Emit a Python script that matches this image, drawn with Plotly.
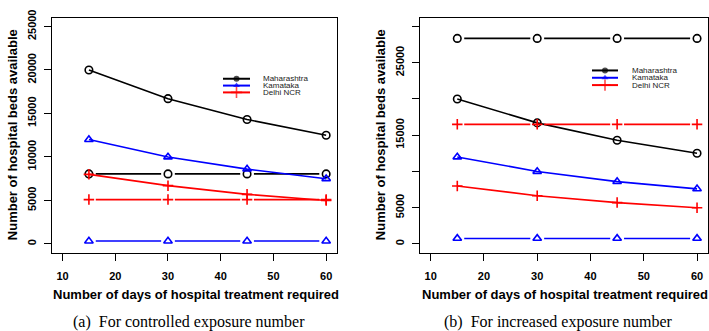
import plotly.graph_objects as go

# ---------------- data ----------------
days = [15, 30, 45, 60]

# (a) controlled exposure number
mah_req_a = [20000, 16700, 14300, 12500]
kar_req_a = [12000, 10000, 8600, 7500]
del_req_a = [8000, 6700, 5700, 5000]
mah_avail_a = [8050, 8050, 8050, 8050]
kar_avail_a = [330, 330, 330, 330]
del_avail_a = [5100, 5100, 5100, 5100]

# (b) increased exposure number
mah_req_b = [20000, 16700, 14300, 12500]
kar_req_b = [12000, 10000, 8600, 7600]
del_req_b = [8000, 6650, 5700, 5000]
mah_avail_b = [28350, 28350, 28350, 28350]
kar_avail_b = [760, 760, 760, 760]
del_avail_b = [16500, 16500, 16500, 16500]

x_ticks = [10, 20, 30, 40, 50, 60]
y_ticks_a = [0, 5000, 10000, 15000, 20000, 25000]
y_ticklabels_a = ["0", "5000", "10000", "15000", "20000", "25000"]
y_ticks_b = [0, 5000, 10000, 15000, 20000, 25000, 30000]
y_ticklabels_b = ["0", "5000", "", "15000", "", "25000", ""]

states = ["Maharashtra", "Karnataka", "Delhi NCR"]
legend_labels = ["Maharashtra", "Kamataka", "Delhi NCR"]
colors = ["black", "blue", "red"]
open_symbols = ["circle-open", "triangle-up-open", "cross-thin-open"]
solid_symbols = ["circle", "triangle-up", "cross-thin-open"]

x_title = "Number of days of hospital treatment required"
y_title = "Number of hospital beds available"
captions = ["(a)  For controlled exposure number", "(b)  For increased exposure number"]

# ---------------- layout helpers ----------------
W, H = 709, 331
def pxx(p):
    return p / W
def pxy(p):
    return 1 - p / H

SANS = "Liberation Sans, Arial, sans-serif"
SERIF = "Liberation Serif, Times New Roman, serif"
LW = 1.6
MS = 7.5
GAP = 1.3  # gap (in x units) around points for R type="b" lines

def gapped(xs, ys):
    gx, gy = [], []
    for i in range(len(xs) - 1):
        gx += [xs[i] + GAP, xs[i + 1] - GAP, None]
        gy += [ys[i], ys[i + 1], None]
    return gx, gy

fig = go.Figure()

panels = [
    dict(ax="", req=[mah_req_a, kar_req_a, del_req_a], avail=[mah_avail_a, kar_avail_a, del_avail_a]),
    dict(ax="2", req=[mah_req_b, kar_req_b, del_req_b], avail=[mah_avail_b, kar_avail_b, del_avail_b]),
]

for p in panels:
    xa, ya = "x" + p["ax"], "y" + p["ax"]
    for k in range(3):
        c = colors[k]
        # requirement curves (type "o": line through points)
        fig.add_trace(go.Scatter(
            x=days, y=p["req"][k], mode="lines+markers", xaxis=xa, yaxis=ya,
            line=dict(color=c, width=LW),
            marker=dict(symbol=open_symbols[k], size=MS, color=c, line=dict(color=c, width=1.6)),
            showlegend=False, name=states[k]))
        # available beds (type "b": line with gaps at points)
        gx, gy = gapped(days, p["avail"][k])
        fig.add_trace(go.Scatter(
            x=gx, y=gy, mode="lines", xaxis=xa, yaxis=ya,
            line=dict(color=c, width=LW), showlegend=False, hoverinfo="skip"))
        fig.add_trace(go.Scatter(
            x=days, y=p["avail"][k], mode="markers", xaxis=xa, yaxis=ya,
            marker=dict(symbol=open_symbols[k], size=MS, color=c, line=dict(color=c, width=1.6)),
            showlegend=False, name=states[k]))

# ---------------- legends (drawn on a pixel-space overlay axis) ----------------
legend_boxes = [
    dict(x0=223, x1=250, tx=261, rows=[72.5, 79.5, 86.5]),
    dict(x0=592, x1=618, tx=630, rows=[64, 71.5, 79]),
]
for lb in legend_boxes:
    for k in range(3):
        yy = lb["rows"][k]
        fig.add_trace(go.Scatter(
            x=[lb["x0"], (lb["x0"] + lb["x1"]) / 2, lb["x1"]], y=[yy, yy, yy],
            mode="lines+markers", xaxis="x3", yaxis="y3",
            line=dict(color=colors[k], width=2),
            marker=dict(symbol=solid_symbols[k], size=[0, 6 if k < 2 else 8, 0], color=colors[k],
                        line=dict(color=colors[k], width=1.6 if k == 2 else 0)),
            showlegend=False, hoverinfo="skip"))

annotations = []
for lb in legend_boxes:
    for k in range(3):
        annotations.append(dict(
            x=pxx(lb["tx"]), y=pxy(lb["rows"][k]), xref="paper", yref="paper",
            text=legend_labels[k], showarrow=False, xanchor="left", yanchor="middle",
            font=dict(family=SANS, size=8, color="#222")))

# ---------------- axes ----------------
boxes = [(52, 336.7), (420, 707.7)]
top, bottom = 10, 250.7
ydom = [pxy(bottom), pxy(top)]

def xaxis_cfg(dom, anchor):
    return dict(domain=dom, range=[8, 62], tickvals=x_ticks, ticktext=[str(v) for v in x_ticks],
                anchor=anchor,
                showline=True, mirror=True, linecolor="black", linewidth=1.2,
                ticks="outside", ticklen=7, tickwidth=1.2, tickcolor="black",
                ticklabelstandoff=6,
                tickfont=dict(family=SANS, size=11, color="black", weight="bold"),
                showgrid=False, zeroline=False, fixedrange=True)

def yaxis_cfg(rng, vals, txt, anchor):
    return dict(domain=ydom, range=rng, tickvals=vals, ticktext=txt, anchor=anchor,
                showline=True, mirror=True, linecolor="black", linewidth=1.2,
                ticks="outside", ticklen=7, tickwidth=1.2, tickcolor="black",
                tickangle=-90, ticklabelstandoff=4,
                tickfont=dict(family=SANS, size=11, color="black", weight="bold"),
                showgrid=False, zeroline=False, fixedrange=True)

for i, (bx0, bx1) in enumerate(boxes):
    cx = (bx0 + bx1) / 2
    annotations.append(dict(x=pxx(cx + 1.5), y=pxy(294), xref="paper", yref="paper", text=x_title,
                            showarrow=False, xanchor="center", yanchor="middle",
                            font=dict(family=SANS, size=13, color="black", weight="bold")))
    annotations.append(dict(x=pxx(bx0 - 40), y=pxy((top + bottom) / 2), xref="paper", yref="paper",
                            text=y_title, textangle=-90, showarrow=False,
                            xanchor="center", yanchor="middle",
                            font=dict(family=SANS, size=13, color="black", weight="bold")))
    annotations.append(dict(x=pxx(cx - 5), y=pxy(322), xref="paper", yref="paper", text=captions[i],
                            showarrow=False, xanchor="center", yanchor="middle",
                            font=dict(family=SERIF, size=16, color="black")))

fig.update_layout(
    width=W, height=H,
    margin=dict(l=0, r=0, t=0, b=0),
    paper_bgcolor="white", plot_bgcolor="rgba(0,0,0,0)",
    showlegend=False,
    xaxis=xaxis_cfg([pxx(boxes[0][0]), pxx(boxes[0][1])], "y"),
    yaxis=yaxis_cfg([-1000, 26000], y_ticks_a, y_ticklabels_a, "x"),
    xaxis2=xaxis_cfg([pxx(boxes[1][0]), pxx(boxes[1][1])], "y2"),
    yaxis2=yaxis_cfg([-1200, 31200], y_ticks_b, y_ticklabels_b, "x2"),
    xaxis3=dict(domain=[0, 1], range=[0, W], visible=False, anchor="y3", fixedrange=True),
    yaxis3=dict(domain=[0, 1], range=[H, 0], visible=False, anchor="x3", fixedrange=True),
    annotations=annotations,
)

fig.write_html("out.html", config={"displayModeBar": False},
               post_script="document.body.style.margin='0';document.body.style.overflow='hidden';")
